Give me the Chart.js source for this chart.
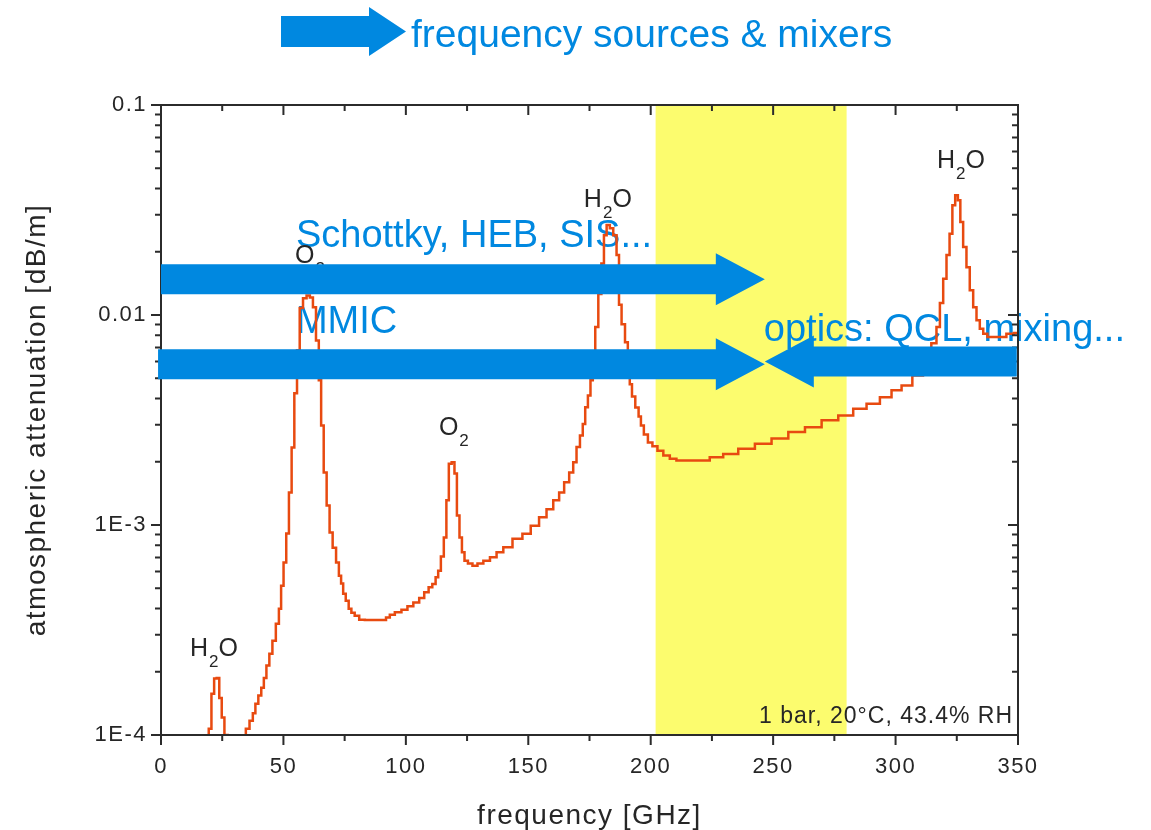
<!DOCTYPE html>
<html>
<head>
<meta charset="utf-8">
<script src="https://cdn.jsdelivr.net/npm/chart.js@4.4.1/dist/chart.umd.min.js"></script>
<style>
  html, body { margin: 0; padding: 0; background: #fff; }
  #wrap { width: 1151px; height: 830px; }
</style>
</head>
<body>
<div id="wrap"><canvas id="atten" width="1151" height="830"></canvas></div>
<script>
// values: frequency [GHz] -> attenuation [dB/m]
const freqGHz = [
  19, 20, 21.2, 22.2, 23.3, 24.3, 25.3, 26.5, 28, 30, 32, 34,
  35.3, 37.0, 38.0, 39.1, 40.4, 41.5, 42.5, 43.6, 44.9, 46.1, 47.7, 48.6,
  49.5, 50.6, 51.7, 52.8, 53.9, 55.0, 56.1, 57.2, 58.8, 60.1, 61.5, 62.6,
  64.0, 64.9, 65.9, 67.0, 68.3, 69.4, 70.8, 72.2, 73.1, 74.0, 74.8, 76.1,
  77.2, 78.3, 79.9, 82.0, 84.5, 87.8, 91.1, 92.7, 94.2, 96.8, 99.6, 101.7,
  104.4, 106.5, 108.5, 110.1, 111.5, 112.8, 113.6, 115.0, 116.0, 117.1, 118.0, 119.4,
  120.3, 121.4, 122.4, 123.4, 124.5, 126.2, 128.2, 130.3, 133.0, 135.7, 138.4, 141.2,
  145.9, 149.3, 152.7, 156.1, 158.8, 161.6, 163.6, 165.7, 167.7, 169.0, 170.4, 171.8,
  172.7, 173.8, 174.9, 175.9, 176.8, 177.9, 179.3, 180.4, 181.4, 182.6, 184.0, 185.4,
  186.7, 187.4, 188.8, 190.2, 191.1, 191.8, 192.9, 194.5, 195.6, 196.4, 198.0, 199.7,
  201.7, 203.8, 206.5, 209.1, 211.9, 216.8, 221.3, 226.9, 232.3, 239.2, 245.9, 252.8,
  259.6, 266.4, 273.2, 280.0, 285.4, 290.9, 296.3, 300.4, 304.5, 309.2, 313.2, 316.0,
  317.4, 318.8, 320.1, 321.5, 322.6, 323.8, 324.9, 326.0, 326.9, 328.3, 329.6, 331.0,
  332.4, 333.7, 335.1, 336.5, 338.5, 343.8, 346.7, 350
];
const attenDbPerM = [
  9e-5, 1.07e-4, 1.57e-4, 1.86e-4, 1.87e-4, 1.5e-4, 1.21e-4, 1.0e-4, 9.5e-5, 9.4e-5, 9.4e-5, 9.5e-5,
  1.07e-4, 1.17e-4, 1.27e-4, 1.41e-4, 1.54e-4, 1.68e-4, 1.87e-4, 2.14e-4, 2.44e-4, 2.81e-4, 3.39e-4, 3.99e-4,
  5.14e-4, 6.62e-4, 9.1e-4, 1.43e-3, 2.34e-3, 4.24e-3, 6.79e-3, 1.08e-2, 1.20e-2, 1.24e-2, 1.21e-2, 1.09e-2,
  7.57e-3, 4.89e-3, 2.98e-3, 1.78e-3, 1.24e-3, 9.2e-4, 7.8e-4, 6.62e-4, 5.74e-4, 5.26e-4, 4.71e-4, 4.36e-4,
  3.99e-4, 3.82e-4, 3.70e-4, 3.54e-4, 3.53e-4, 3.53e-4, 3.53e-4, 3.63e-4, 3.74e-4, 3.84e-4, 3.95e-4, 4.10e-4,
  4.28e-4, 4.49e-4, 4.78e-4, 5.05e-4, 5.24e-4, 5.64e-4, 6.06e-4, 7.07e-4, 8.73e-4, 1.31e-3, 1.96e-3, 1.99e-3,
  1.76e-3, 1.11e-3, 8.73e-4, 7.41e-4, 6.76e-4, 6.56e-4, 6.40e-4, 6.55e-4, 6.76e-4, 7.02e-4, 7.41e-4, 7.83e-4,
  8.59e-4, 9.08e-4, 9.93e-4, 1.09e-3, 1.19e-3, 1.31e-3, 1.43e-3, 1.60e-3, 1.78e-3, 1.99e-3, 2.35e-3, 2.67e-3,
  3.03e-3, 3.64e-3, 4.14e-3, 4.89e-3, 6.43e-3, 8.77e-3, 1.26e-2, 1.76e-2, 2.40e-2, 2.68e-2, 2.59e-2, 2.40e-2,
  1.93e-2, 1.12e-2, 9.04e-3, 7.41e-3, 5.75e-3, 4.68e-3, 4.09e-3, 3.63e-3, 3.29e-3, 2.98e-3, 2.70e-3, 2.47e-3,
  2.37e-3, 2.26e-3, 2.14e-3, 2.07e-3, 2.03e-3, 2.03e-3, 2.03e-3, 2.10e-3, 2.18e-3, 2.31e-3, 2.44e-3, 2.58e-3,
  2.77e-3, 2.92e-3, 3.15e-3, 3.32e-3, 3.58e-3, 3.78e-3, 4.06e-3, 4.38e-3, 4.62e-3, 5.15e-3, 5.89e-3, 7.33e-3,
  8.77e-3, 1.14e-2, 1.49e-2, 1.93e-2, 2.44e-2, 3.33e-2, 3.72e-2, 3.52e-2, 2.77e-2, 2.11e-2, 1.69e-2, 1.31e-2,
  1.09e-2, 9.44e-3, 8.61e-3, 8.15e-3, 7.85e-3, 7.85e-3, 8.15e-3, 8.2e-3
];

const xTickValues = [0, 50, 100, 150, 200, 250, 300, 350];
const xTickLabels = ['0', '50', '100', '150', '200', '250', '300', '350'];
const yTickValues = [1e-4, 1e-3, 1e-2, 1e-1];
const yTickLabels = ['1E-4', '1E-3', '0.01', '0.1'];

// highlighted band [GHz]
const windowBand = [202, 280];

// absorption line names, anchored at (GHz, dB/m) of their left baseline
const speciesLabels = [
  { parts: [['H', 0], ['2', 1], ['O', 0]], freq: 11.8, value: 2.38e-4 },
  { parts: [['O', 0], ['2', 1]], freq: 54.7, value: 0.01765 },
  { parts: [['O', 0], ['2', 1]], freq: 113.5, value: 2.67e-3 },
  { parts: [['H', 0], ['2', 1], ['O', 0]], freq: 172.7, value: 0.0327 },
  { parts: [['H', 0], ['2', 1], ['O', 0]], freq: 316.9, value: 0.0501 }
];

// technology ranges
const techLabels = [
  { text: 'Schottky, HEB, SIS...', freq: 55.1, value: 0.02104 },
  { text: 'MMIC', freq: 55.1, value: 0.00818 },
  { text: 'optics: QCL, mixing...', freq: 246.2, value: 0.0075 }
];
const techArrows = [
  { from: 0, to: 246.6, value: 0.0148 },
  { from: -1.2, to: 246.6, value: 0.00582 },
  { from: 349.5, to: 246.6, value: 0.00601 }
];

const FONT = '"Liberation Sans", Arial, sans-serif';
const BLUE = '#0088e0';
const INK = '#262626';

function drawArrow(ctx, x0, tip, cy) {
  const dir = tip > x0 ? 1 : -1;
  const xb = tip - dir * 49;
  ctx.beginPath();
  ctx.moveTo(x0, cy - 15);
  ctx.lineTo(xb, cy - 15);
  ctx.lineTo(xb, cy - 26);
  ctx.lineTo(tip, cy);
  ctx.lineTo(xb, cy + 26);
  ctx.lineTo(xb, cy + 15);
  ctx.lineTo(x0, cy + 15);
  ctx.closePath();
  ctx.fill();
}

const decor = {
  id: 'decor',
  beforeDraw(chart) {
    // axis text in the original is letter-spaced
    chart.ctx.letterSpacing = '1.5px';
  },
  beforeDatasetsDraw(chart) {
    const { ctx, chartArea: a, scales: { x, y } } = chart;
    ctx.letterSpacing = '0px';
    ctx.save();
    const b0 = x.getPixelForValue(windowBand[0]);
    const b1 = x.getPixelForValue(windowBand[1]);
    ctx.fillStyle = '#fcfc6e';
    ctx.fillRect(b0, a.top, b1 - b0, a.bottom - a.top);

    ctx.fillStyle = BLUE;
    ctx.font = '38px ' + FONT;
    ctx.textBaseline = 'alphabetic';
    techLabels.forEach(t => ctx.fillText(t.text, x.getPixelForValue(t.freq), y.getPixelForValue(t.value)));
    ctx.restore();
  },
  afterDatasetsDraw(chart) {
    const { ctx, chartArea: a, scales: { x, y } } = chart;
    ctx.save();
    // frame + mirrored ticks
    ctx.strokeStyle = '#2b2b2b';
    ctx.lineWidth = 2;
    ctx.strokeRect(a.left, a.top, a.right - a.left, a.bottom - a.top);
    ctx.beginPath();
    for (let v = 0; v <= 350; v += 25) {
      const px = x.getPixelForValue(v);
      const len = v % 50 === 0 ? 10 : 6;
      ctx.moveTo(px, a.bottom); ctx.lineTo(px, a.bottom + len);
      ctx.moveTo(px, a.top); ctx.lineTo(px, a.top + len);
    }
    [1e-4, 1e-3, 1e-2].forEach(d => {
      for (let m = 1; m <= 10; m++) {
        const py = y.getPixelForValue(m * d);
        const len = (m === 1 || m === 10) ? 10 : 6;
        ctx.moveTo(a.left, py); ctx.lineTo(a.left - len, py);
        ctx.moveTo(a.right, py); ctx.lineTo(a.right - len, py);
      }
    });
    ctx.stroke();

    // species labels
    ctx.fillStyle = INK;
    ctx.textBaseline = 'alphabetic';
    speciesLabels.forEach(l => {
      let cx = x.getPixelForValue(l.freq);
      const base = y.getPixelForValue(l.value);
      l.parts.forEach(([txt, sub]) => {
        ctx.font = (sub ? '17px ' : '25px ') + FONT;
        ctx.fillText(txt, cx + (sub ? 1 : 0), sub ? base + 11 : base);
        cx += ctx.measureText(txt).width + (sub ? 1 : 0);
      });
    });

    // technology arrows
    ctx.fillStyle = BLUE;
    techArrows.forEach(r => drawArrow(ctx, x.getPixelForValue(r.from), x.getPixelForValue(r.to), y.getPixelForValue(r.value)));

    // measurement conditions
    ctx.fillStyle = INK;
    ctx.font = '23px ' + FONT;
    ctx.letterSpacing = '1px';
    ctx.textAlign = 'right';
    ctx.fillText('1 bar, 20°C, 43.4% RH', a.right - 5, a.bottom - 12);
    ctx.restore();
  },
  afterDraw(chart) {
    const { ctx } = chart;
    ctx.save();
    ctx.fillStyle = BLUE;
    ctx.beginPath();
    ctx.moveTo(281, 16);
    ctx.lineTo(369, 16);
    ctx.lineTo(369, 7);
    ctx.lineTo(406, 31.5);
    ctx.lineTo(369, 56);
    ctx.lineTo(369, 47);
    ctx.lineTo(281, 47);
    ctx.closePath();
    ctx.fill();
    ctx.font = '39px ' + FONT;
    ctx.textBaseline = 'alphabetic';
    ctx.fillText('frequency sources & mixers', 411, 47);
    ctx.restore();
  }
};

Chart.defaults.font.family = FONT;
Chart.defaults.color = INK;

new Chart(document.getElementById('atten'), {
  type: 'line',
  data: {
    datasets: [{
      data: freqGHz.map((f, i) => ({ x: f, y: attenDbPerM[i] })),
      borderColor: '#e84a10',
      borderWidth: 2.5,
      pointRadius: 0,
      stepped: 'middle',
      fill: false
    }]
  },
  options: {
    responsive: false,
    animation: false,
    layout: { padding: { top: 105, right: 133, bottom: 0, left: 0 } },
    plugins: { legend: { display: false }, tooltip: { enabled: false } },
    scales: {
      x: {
        type: 'linear', min: 0, max: 350,
        afterBuildTicks: s => { s.ticks = xTickValues.map(v => ({ value: v })); },
        afterFit: s => { s.height = 95; },
        ticks: { callback: (v, i) => xTickLabels[i], font: { size: 22 }, color: INK, padding: 19, autoSkip: false, maxRotation: 0 },
        grid: { display: false, drawTicks: false },
        border: { display: false },
        title: { display: true, text: 'frequency [GHz]', font: { size: 28, lineHeight: 1 }, color: INK, padding: { top: 0, bottom: 0 } }
      },
      y: {
        type: 'logarithmic', min: 1e-4, max: 0.1,
        afterBuildTicks: s => { s.ticks = yTickValues.map(v => ({ value: v })); },
        afterFit: s => { s.width = 161; },
        ticks: { callback: (v, i) => yTickLabels[i], font: { size: 22 }, color: INK, padding: 14 },
        grid: { display: false, drawTicks: false },
        border: { display: false },
        title: { display: true, text: 'atmospheric attenuation [dB/m]', font: { size: 28, lineHeight: 1 }, color: INK, padding: { top: 23, bottom: 0 } }
      }
    }
  },
  plugins: [decor]
});
</script>
</body>
</html>
